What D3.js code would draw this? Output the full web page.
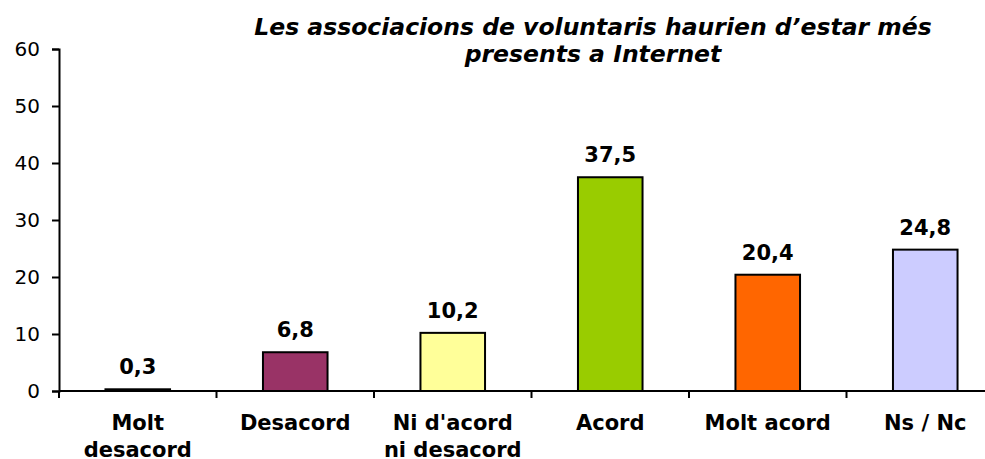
<!DOCTYPE html>
<html>
<head>
<meta charset="utf-8">
<script src="https://cdn.jsdelivr.net/npm/d3@7"></script>
<style>
    body { margin: 0; background: #fff; }
    svg { display: block; }
    .axis path, .axis line { stroke: #000; stroke-width: 2; }
    .axis text { font-family: "DejaVu Sans", Verdana, sans-serif; font-size: 20px; fill: #000; }
    .valueLabel { font-family: "DejaVu Sans", Verdana, sans-serif; font-size: 21px; font-weight: bold; }
    .catLabel { font-family: "DejaVu Sans", Verdana, sans-serif; font-size: 21px; font-weight: bold; }
    .title { font-family: "DejaVu Sans", Verdana, sans-serif; font-size: 23.5px; font-weight: bold; font-style: italic; }
</style>
</head>
<body>
<div id="chart"></div>
<script>
// data
const categories = ["Molt desacord", "Desacord", "Ni d'acord ni desacord", "Acord", "Molt acord", "Ns / Nc"];
const labelLines = [["Molt", "desacord"], ["Desacord"], ["Ni d'acord", "ni desacord"], ["Acord"], ["Molt acord"], ["Ns / Nc"]];
const values = [0.3, 6.8, 10.2, 37.5, 20.4, 24.8];
const barColors = ["#000000", "#993366", "#FFFF99", "#99CC00", "#FF6600", "#CCCCFF"];
const yTicks = [0, 10, 20, 30, 40, 50, 60];
const titleLines = ["Les associacions de voluntaris haurien d\u2019estar més", "presents a Internet"];

const width = 985;
const height = 459;
const margin = { top: 49, left: 59, bottom: 68 };

const svg = d3.select("#chart")
    .append("svg")
    .attr("width", width)
    .attr("height", height);

// x axis runs past the right edge, like the original
const xScale = d3.scaleBand()
    .domain(categories)
    .range([margin.left, 1004])
    .paddingInner(0.59)
    .paddingOuter(0.295);

const yScale = d3.scaleLinear()
    .domain([0, 60])
    .range([height - margin.bottom, margin.top]);

const step = xScale.step();

// bars
svg.selectAll(".bar")
    .data(values)
    .enter()
    .append("rect")
    .attr("class", "bar")
    .attr("x", (d, i) => xScale(categories[i]))
    .attr("y", d => yScale(d))
    .attr("width", xScale.bandwidth())
    .attr("height", d => yScale(0) - yScale(d))
    .attr("fill", (d, i) => barColors[i])
    .attr("stroke", "#000")
    .attr("stroke-width", 2);

// value labels
svg.selectAll(".valueLabel")
    .data(values)
    .enter()
    .append("text")
    .attr("class", "valueLabel")
    .attr("x", (d, i) => xScale(categories[i]) + xScale.bandwidth() / 2)
    .attr("y", d => yScale(d) - 15)
    .attr("text-anchor", "middle")
    .text(d => d3.format(".1f")(d).replace(".", ","));

// y axis
svg.append("g")
    .attr("class", "axis")
    .attr("transform", `translate(${margin.left},0)`)
    .call(d3.axisLeft(yScale).tickValues(yTicks).tickSize(7).tickPadding(12).tickSizeOuter(7));

// x axis line with ticks at category boundaries
const xAxis = svg.append("g").attr("class", "axis");
xAxis.append("line")
    .attr("x1", margin.left)
    .attr("x2", width)
    .attr("y1", yScale(0))
    .attr("y2", yScale(0));

const boundaries = categories.map(c => xScale(c) + xScale.bandwidth() / 2 - step / 2);
xAxis.selectAll(".xtick")
    .data(boundaries)
    .enter()
    .append("line")
    .attr("class", "xtick")
    .attr("x1", d => d)
    .attr("x2", d => d)
    .attr("y1", yScale(0))
    .attr("y2", yScale(0) + 7);

// category labels
const catLabels = svg.selectAll(".catLabel")
    .data(labelLines)
    .enter()
    .append("text")
    .attr("class", "catLabel")
    .attr("text-anchor", "middle")
    .attr("x", (d, i) => xScale(categories[i]) + xScale.bandwidth() / 2)
    .attr("y", 430);

catLabels.selectAll("tspan")
    .data(d => d)
    .enter()
    .append("tspan")
    .attr("x", function () { return d3.select(this.parentNode).attr("x"); })
    .attr("dy", (d, i) => i === 0 ? 0 : 27)
    .text(d => d);

// title
svg.selectAll(".title")
    .data(titleLines)
    .enter()
    .append("text")
    .attr("class", "title")
    .attr("x", 593)
    .attr("y", (d, i) => 35 + i * 27)
    .attr("text-anchor", "middle")
    .text(d => d);
</script>
</body>
</html>
